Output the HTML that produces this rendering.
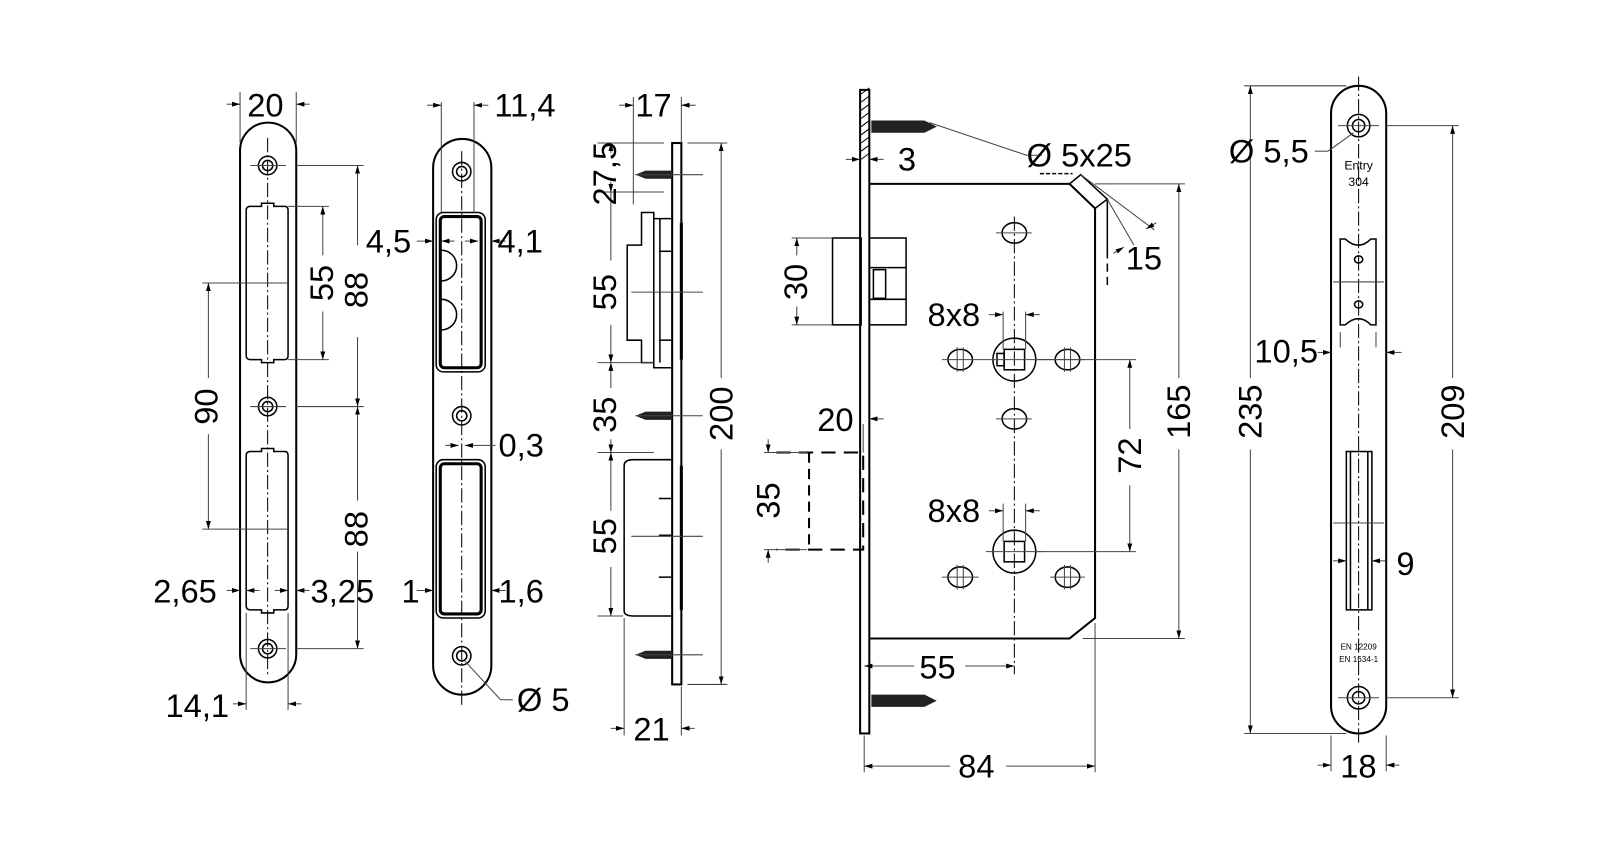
<!DOCTYPE html>
<html><head><meta charset="utf-8"><style>
html,body{margin:0;padding:0;background:#fff}
svg{display:block}
text{font-family:"Liberation Sans",sans-serif;font-size:32px;fill:#000}
.o{fill:none;stroke:#000;stroke-width:2}
.t{fill:none;stroke:#000;stroke-width:1.5}
.d{fill:none;stroke:#444;stroke-width:1}
.c{fill:none;stroke:#000;stroke-width:1;stroke-dasharray:14 3 2 3}
.ds{fill:none;stroke:#000;stroke-width:2;stroke-dasharray:14 8}
</style></head><body>
<svg width="1600" height="868" viewBox="0 0 1566.3 849.7" preserveAspectRatio="none" xmlns="http://www.w3.org/2000/svg">
<defs>
<marker id="a" viewBox="0 0 10 10" refX="10" refY="5" markerWidth="8" markerHeight="8" orient="auto-start-reverse"><path d="M0,2 L10,5 L0,8 z" fill="#000"/></marker>
</defs>

<!-- ============ Plate 1 ============ -->
<rect class="o" x="235" y="120" width="55" height="548" rx="27.5"/>
<line class="c" x1="262" y1="135" x2="262" y2="660"/>
<g class="t">
<circle cx="262" cy="162" r="9"/><circle cx="262" cy="162" r="5"/>
<circle cx="262" cy="398" r="9"/><circle cx="262" cy="398" r="5"/>
<circle cx="262" cy="635" r="9"/><circle cx="262" cy="635" r="5"/>
<path d="M245,202 H256 V199 H268 V202 H279 Q282,202 282,206 V348 Q282,352 279,352 H268 V355 H256 V352 H245 Q241,352 241,348 V206 Q241,202 245,202 Z"/>
<path d="M245,442 H256 V439 H268 V442 H279 Q282,442 282,446 V593 Q282,597 279,597 H268 V600 H256 V597 H245 Q241,597 241,593 V446 Q241,442 245,442 Z"/>
</g>
<g class="d">
<line x1="245" y1="162" x2="280" y2="162"/><line x1="245" y1="398" x2="280" y2="398"/><line x1="245" y1="635" x2="280" y2="635"/>
<line x1="235" y1="90" x2="235" y2="140"/><line x1="290" y1="90" x2="290" y2="140"/>
<line x1="222" y1="102" x2="235" y2="102" marker-end="url(#a)"/><line x1="303" y1="102" x2="290" y2="102" marker-end="url(#a)"/>
<line x1="290" y1="162" x2="356" y2="162"/><line x1="290" y1="398" x2="356" y2="398"/><line x1="290" y1="635" x2="356" y2="635"/>
<line x1="350" y1="162" x2="350" y2="240" marker-start="url(#a)"/><line x1="350" y1="330" x2="350" y2="398" marker-end="url(#a)"/>
<line x1="350" y1="398" x2="350" y2="490" marker-start="url(#a)"/><line x1="350" y1="540" x2="350" y2="635" marker-end="url(#a)"/>
<line x1="282" y1="202" x2="322" y2="202"/><line x1="282" y1="352" x2="322" y2="352"/>
<line x1="316" y1="202" x2="316" y2="250" marker-start="url(#a)"/><line x1="316" y1="305" x2="316" y2="352" marker-end="url(#a)"/>
<line x1="198" y1="277" x2="282" y2="277"/><line x1="198" y1="518" x2="282" y2="518"/>
<line x1="204" y1="277" x2="204" y2="370" marker-start="url(#a)"/><line x1="204" y1="425" x2="204" y2="518" marker-end="url(#a)"/>
<line x1="222" y1="578" x2="235" y2="578" marker-end="url(#a)"/><line x1="303" y1="578" x2="290" y2="578" marker-end="url(#a)"/>
<line x1="241" y1="578" x2="254" y2="578" marker-start="url(#a)"/><line x1="282" y1="578" x2="269" y2="578" marker-start="url(#a)"/>
<line x1="241" y1="600" x2="241" y2="695"/><line x1="282" y1="600" x2="282" y2="695"/>
<line x1="228" y1="689" x2="241" y2="689" marker-end="url(#a)"/><line x1="295" y1="689" x2="282" y2="689" marker-end="url(#a)"/>
</g>
<text x="242" y="114">20</text>
<text transform="translate(326,277) rotate(-90)" text-anchor="middle">55</text>
<text transform="translate(360,284) rotate(-90)" text-anchor="middle">88</text>
<text transform="translate(360,518) rotate(-90)" text-anchor="middle">88</text>
<text transform="translate(213,398) rotate(-90)" text-anchor="middle">90</text>
<text x="150" y="590">2,65</text>
<text x="304" y="590">3,25</text>
<text x="162" y="702">14,1</text>

<!-- ============ Plate 2 ============ -->
<rect class="o" x="424" y="136" width="57" height="544" rx="28.5"/>
<line class="c" x1="452" y1="148" x2="452" y2="690"/>
<g class="t">
<circle cx="452" cy="168" r="9"/><circle cx="452" cy="168" r="5"/>
<circle cx="452" cy="407" r="9"/><circle cx="452" cy="407" r="5"/>
<circle cx="452" cy="642" r="9"/><circle cx="452" cy="642" r="5"/>
<rect x="427" y="208" width="48" height="156" rx="7"/>
<rect x="431" y="212" width="40" height="148" rx="4" stroke-width="3"/>
<path d="M432,245 A10,10 0 0 1 432,275"/><path d="M432,293 A10,10 0 0 1 432,323"/>
<rect x="427" y="450" width="48" height="155" rx="7"/>
<rect x="431" y="454" width="40" height="147" rx="4" stroke-width="3"/>
</g>
<g class="d">
<line x1="432" y1="100" x2="432" y2="208"/><line x1="464" y1="100" x2="464" y2="208"/>
<line x1="418" y1="103" x2="432" y2="103" marker-end="url(#a)"/><line x1="478" y1="103" x2="464" y2="103" marker-end="url(#a)"/>
<line x1="408" y1="236" x2="424" y2="236" marker-end="url(#a)"/><line x1="495" y1="236" x2="481" y2="236" marker-end="url(#a)"/>
<line x1="432" y1="236" x2="445" y2="236" marker-start="url(#a)"/><line x1="468" y1="236" x2="455" y2="236" marker-start="url(#a)"/>
<line x1="436" y1="436" x2="449" y2="436" marker-end="url(#a)"/><line x1="470" y1="436" x2="455" y2="436" marker-end="url(#a)"/><line x1="470" y1="436" x2="485" y2="436"/>
<line x1="408" y1="578" x2="424" y2="578" marker-end="url(#a)"/><line x1="495" y1="578" x2="481" y2="578" marker-end="url(#a)"/>
<line x1="455" y1="647" x2="490" y2="685"/><line x1="490" y1="685" x2="502" y2="685"/>
</g>
<text x="484" y="114">11,4</text>
<text x="358" y="247">4,5</text>
<text x="487" y="247">4,1</text>
<text x="488" y="447">0,3</text>
<text x="393" y="590">1</text>
<text x="488" y="590">1,6</text>
<text x="506" y="696">Ø 5</text>

<!-- ============ Side view ============ -->
<rect class="o" x="658" y="140" width="9" height="530"/>
<g class="t">
<path d="M658,214 H640 V208 H628 V240 H614 V333 H628 V355 H640 V360 H658"/>
<path d="M640,214 V355 M646,214 V355"/>
<line x1="667" y1="218" x2="667" y2="352" stroke-width="3"/>
<path d="M658,450 H620 Q611,450 611,456 V598 Q611,603 620,603 H658"/>
<line x1="667" y1="456" x2="667" y2="597" stroke-width="3"/>
<line x1="645" y1="488" x2="658" y2="488"/><line x1="645" y1="524" x2="658" y2="524"/><line x1="645" y1="565" x2="658" y2="565"/>
<line x1="645" y1="246" x2="658" y2="246"/><line x1="645" y1="333" x2="658" y2="333"/>
</g>
<g fill="#222">
<path d="M622,171 L632,167 L658,167 L658,175 L632,175 Z"/>
<path d="M622,407 L632,403 L658,403 L658,411 L632,411 Z"/>
<path d="M622,641 L632,637 L658,637 L658,645 L632,645 Z"/>
</g>
<g class="d">
<line x1="622" y1="171" x2="688" y2="171"/><line x1="622" y1="407" x2="688" y2="407"/><line x1="622" y1="641" x2="688" y2="641"/>
<line x1="618" y1="286" x2="688" y2="286"/><line x1="618" y1="525" x2="688" y2="525"/>
<line x1="620" y1="95" x2="620" y2="200"/><line x1="667" y1="95" x2="667" y2="140"/>
<line x1="606" y1="103" x2="620" y2="103" marker-end="url(#a)"/><line x1="681" y1="103" x2="667" y2="103" marker-end="url(#a)"/>
<line x1="673" y1="140" x2="712" y2="140"/><line x1="673" y1="670" x2="712" y2="670"/>
<line x1="706" y1="140" x2="706" y2="370" marker-start="url(#a)"/><line x1="706" y1="440" x2="706" y2="670" marker-end="url(#a)"/>
<line x1="585" y1="140" x2="650" y2="140"/><line x1="585" y1="188" x2="650" y2="188"/>
<line x1="585" y1="355" x2="640" y2="355"/><line x1="585" y1="443" x2="640" y2="443"/><line x1="585" y1="603" x2="610" y2="603"/>
<line x1="598" y1="140" x2="598" y2="150" marker-start="url(#a)"/><line x1="598" y1="188" x2="598" y2="178" marker-start="url(#a)"/>
<line x1="598" y1="188" x2="598" y2="255"/><line x1="598" y1="318" x2="598" y2="355" marker-end="url(#a)"/>
<line x1="598" y1="355" x2="598" y2="380" marker-start="url(#a)"/><line x1="598" y1="430" x2="598" y2="443" marker-end="url(#a)"/>
<line x1="598" y1="443" x2="598" y2="500" marker-start="url(#a)"/><line x1="598" y1="555" x2="598" y2="603" marker-end="url(#a)"/>
<line x1="611" y1="605" x2="611" y2="720"/><line x1="667" y1="672" x2="667" y2="720"/>
<line x1="598" y1="713" x2="611" y2="713" marker-end="url(#a)"/><line x1="680" y1="713" x2="667" y2="713" marker-end="url(#a)"/>
</g>
<text x="622" y="114">17</text>
<text transform="translate(603,170) rotate(-90)" text-anchor="middle">27,5</text>
<text transform="translate(603,286) rotate(-90)" text-anchor="middle">55</text>
<text transform="translate(603,406) rotate(-90)" text-anchor="middle">35</text>
<text transform="translate(603,525) rotate(-90)" text-anchor="middle">55</text>
<text transform="translate(717,405) rotate(-90)" text-anchor="middle">200</text>
<text x="620" y="725">21</text>

<!-- ============ Lock body ============ -->
<rect class="o" x="842" y="88" width="9" height="630"/>
<path d="M843,92 L851,86 M843,100 L851,94 M843,108 L851,102 M843,116 L851,110 M843,124 L851,118 M843,132 L851,126 M843,140 L851,134 M843,148 L851,142 M843,156 L851,150" stroke="#000" stroke-width="1"/>
<path class="o" d="M851,180 H1047 L1072,204 V605 L1047,625 H851"/>
<path class="t" d="M1047,180 L1058,171 L1084,195 L1072,204"/>
<line class="t" x1="1084" y1="195" x2="1084" y2="245"/>
<line x1="1084" y1="245" x2="1084" y2="282" stroke="#000" stroke-width="1.5" stroke-dasharray="8 5"/>
<g class="t">
<rect x="815" y="233" width="28" height="85"/>
<rect x="851" y="233" width="36" height="85"/>
<line x1="851" y1="262" x2="887" y2="262"/><line x1="851" y1="293" x2="887" y2="293"/>
<rect x="855" y="264" width="12" height="28"/>
</g>
<path class="ds" d="M760,443 H845 V538 H760"/>
<path class="o" d="M792,443 V538" stroke-dasharray="10 6"/>
<g fill="#222">
<path d="M853,118 L905,118 L917,124 L905,130 L853,130 Z"/>
<path d="M853,680 L905,680 L917,686 L905,692 L853,692 Z"/>
</g>
<g class="t">
<circle cx="993" cy="352" r="21"/><rect x="983" y="342" width="20" height="20"/><rect x="976" y="346" width="7" height="12"/>
<circle cx="993" cy="540" r="21"/><rect x="983" y="530" width="20" height="20"/>
<ellipse cx="993" cy="228" rx="12" ry="10"/><ellipse cx="993" cy="410" rx="12" ry="10"/>
<ellipse cx="940" cy="352" rx="12" ry="10"/><ellipse cx="1045" cy="352" rx="12" ry="10"/>
<ellipse cx="940" cy="565" rx="12" ry="10"/><ellipse cx="1045" cy="565" rx="12" ry="10"/>
</g>
<g class="d">
<line class="c" x1="993" y1="212" x2="993" y2="660"/>
<line x1="922" y1="352" x2="1062" y2="352"/><line x1="975" y1="228" x2="1010" y2="228"/><line x1="975" y1="410" x2="1010" y2="410"/>
<line x1="922" y1="565" x2="958" y2="565"/><line x1="1028" y1="565" x2="1062" y2="565"/><line x1="965" y1="540" x2="1020" y2="540"/>
<line x1="937" y1="340" x2="937" y2="364"/><line x1="943" y1="340" x2="943" y2="364"/><line x1="1042" y1="340" x2="1042" y2="364"/><line x1="1048" y1="340" x2="1048" y2="364"/>
<line x1="937" y1="553" x2="937" y2="577"/><line x1="943" y1="553" x2="943" y2="577"/><line x1="1042" y1="553" x2="1042" y2="577"/><line x1="1048" y1="553" x2="1048" y2="577"/>
<line x1="982" y1="305" x2="982" y2="342"/><line x1="1004" y1="305" x2="1004" y2="342"/>
<line x1="968" y1="308" x2="982" y2="308" marker-end="url(#a)"/><line x1="1018" y1="308" x2="1004" y2="308" marker-end="url(#a)"/>
<line x1="982" y1="493" x2="982" y2="530"/><line x1="1004" y1="493" x2="1004" y2="530"/>
<line x1="968" y1="500" x2="982" y2="500" marker-end="url(#a)"/><line x1="1018" y1="500" x2="1004" y2="500" marker-end="url(#a)"/>
<line x1="1014" y1="352" x2="1112" y2="352"/><line x1="1014" y1="540" x2="1112" y2="540"/>
<line x1="1106" y1="352" x2="1106" y2="420" marker-start="url(#a)"/><line x1="1106" y1="475" x2="1106" y2="540" marker-end="url(#a)"/>
<line x1="1072" y1="180" x2="1160" y2="180"/><line x1="1060" y1="625" x2="1160" y2="625"/>
<line x1="1154" y1="180" x2="1154" y2="370" marker-start="url(#a)"/><line x1="1154" y1="440" x2="1154" y2="625" marker-end="url(#a)"/>
<line x1="1072" y1="610" x2="1072" y2="756"/><line x1="846" y1="720" x2="846" y2="756"/>
<line x1="846" y1="750" x2="930" y2="750" marker-start="url(#a)"/><line x1="985" y1="750" x2="1072" y2="750" marker-end="url(#a)"/>
<line x1="846" y1="652" x2="895" y2="652" marker-start="url(#a)"/><line x1="945" y1="652" x2="993" y2="652" marker-end="url(#a)"/>
<line x1="828" y1="156" x2="842" y2="156" marker-end="url(#a)"/><line x1="865" y1="156" x2="851" y2="156" marker-end="url(#a)"/>
<line x1="910" y1="120" x2="1005" y2="152"/><line x1="1005" y1="152" x2="1020" y2="152"/>
<line x1="1018" y1="170" x2="1050" y2="170" stroke-dasharray="4 2" stroke="#000" stroke-width="1.5"/>
<line x1="1058" y1="171" x2="1130" y2="225"/><line x1="1084" y1="195" x2="1110" y2="240"/>
<line x1="1132" y1="218" x2="1122" y2="224" marker-end="url(#a)"/><line x1="1090" y1="248" x2="1100" y2="242" marker-end="url(#a)"/>
<line x1="775" y1="233" x2="815" y2="233"/><line x1="775" y1="318" x2="815" y2="318"/>
<line x1="780" y1="233" x2="780" y2="250" marker-start="url(#a)"/><line x1="780" y1="300" x2="780" y2="318" marker-end="url(#a)"/>
<line x1="748" y1="443" x2="790" y2="443"/><line x1="748" y1="538" x2="790" y2="538"/>
<line x1="752" y1="430" x2="752" y2="443" marker-end="url(#a)"/><line x1="752" y1="551" x2="752" y2="538" marker-end="url(#a)"/>
<line x1="865" y1="410" x2="851" y2="410" marker-end="url(#a)"/>
<line x1="845" y1="415" x2="845" y2="443"/>
</g>
<text x="879" y="167">3</text>
<text x="1005" y="163">Ø 5x25</text>
<text x="1102" y="264">15</text>
<text transform="translate(790,276) rotate(-90)" text-anchor="middle">30</text>
<text x="800" y="422">20</text>
<text transform="translate(763,490) rotate(-90)" text-anchor="middle">35</text>
<text x="908" y="319">8x8</text>
<text x="908" y="511">8x8</text>
<text transform="translate(1117,446) rotate(-90)" text-anchor="middle">72</text>
<text transform="translate(1165,403) rotate(-90)" text-anchor="middle">165</text>
<text x="900" y="664">55</text>
<text x="938" y="761">84</text>

<!-- ============ Right plate ============ -->
<rect class="o" x="1303" y="84" width="54" height="634" rx="27"/>
<line class="c" x1="1330" y1="75" x2="1330" y2="728"/>
<g class="t">
<circle cx="1330" cy="123" r="11"/><circle cx="1330" cy="123" r="6"/>
<circle cx="1330" cy="683" r="11"/><circle cx="1330" cy="683" r="6"/>
<path d="M1312,234 H1317 Q1330,246 1342,234 H1347 V318 H1342 Q1330,306 1317,318 H1312 Z"/>
<ellipse cx="1330" cy="254" rx="4" ry="3.5"/><ellipse cx="1330" cy="298" rx="4" ry="3.5"/>
<rect x="1318" y="442" width="25" height="155"/>
<line x1="1322" y1="442" x2="1322" y2="597"/><line x1="1339" y1="442" x2="1339" y2="597"/>
</g>
<text x="1330" y="166" text-anchor="middle" style="font-size:12px">Entry</text>
<text x="1330" y="182" text-anchor="middle" style="font-size:12px">304</text>
<text x="1330" y="636" text-anchor="middle" style="font-size:8px">EN 12209</text>
<text x="1330" y="648" text-anchor="middle" style="font-size:8px">EN 1634-1</text>
<g class="d">
<line x1="1310" y1="123" x2="1350" y2="123"/><line x1="1310" y1="683" x2="1350" y2="683"/>
<line x1="1305" y1="276" x2="1355" y2="276"/><line x1="1305" y1="512" x2="1355" y2="512"/>
<line x1="1218" y1="84" x2="1318" y2="84"/><line x1="1218" y1="718" x2="1318" y2="718"/>
<line x1="1224" y1="84" x2="1224" y2="370" marker-start="url(#a)"/><line x1="1224" y1="440" x2="1224" y2="718" marker-end="url(#a)"/>
<line x1="1357" y1="123" x2="1428" y2="123"/><line x1="1357" y1="683" x2="1428" y2="683"/>
<line x1="1422" y1="123" x2="1422" y2="370" marker-start="url(#a)"/><line x1="1422" y1="440" x2="1422" y2="683" marker-end="url(#a)"/>
<line x1="1325" y1="130" x2="1300" y2="148"/><line x1="1300" y1="148" x2="1287" y2="148"/>
<line x1="1290" y1="345" x2="1303" y2="345" marker-end="url(#a)"/><line x1="1372" y1="345" x2="1357" y2="345" marker-end="url(#a)"/>
<line x1="1312" y1="325" x2="1312" y2="340"/><line x1="1347" y1="325" x2="1347" y2="340"/>
<line x1="1305" y1="549" x2="1318" y2="549" marker-end="url(#a)"/><line x1="1356" y1="549" x2="1343" y2="549" marker-end="url(#a)"/>
<line x1="1303" y1="720" x2="1303" y2="755"/><line x1="1357" y1="720" x2="1357" y2="755"/>
<line x1="1290" y1="749" x2="1303" y2="749" marker-end="url(#a)"/><line x1="1370" y1="749" x2="1357" y2="749" marker-end="url(#a)"/>
</g>
<text x="1203" y="159">Ø 5,5</text>
<text x="1228" y="355">10,5</text>
<text transform="translate(1235,403) rotate(-90)" text-anchor="middle">235</text>
<text transform="translate(1433,403) rotate(-90)" text-anchor="middle">209</text>
<text x="1367" y="563">9</text>
<text x="1312" y="761">18</text>
</svg>
</body></html>
